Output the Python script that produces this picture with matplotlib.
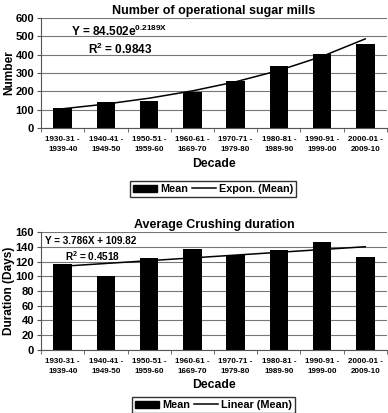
import numpy as np
import matplotlib.pyplot as plt
from matplotlib.patches import Patch
from matplotlib.lines import Line2D

plt.rcParams['font.family'] = 'Liberation Sans'
plt.rcParams['font.weight'] = 'bold'
plt.rcParams['mathtext.fontset'] = 'custom'
plt.rcParams['mathtext.rm'] = 'Liberation Sans:bold'
plt.rcParams['mathtext.it'] = 'Liberation Sans:bold'
plt.rcParams['mathtext.bf'] = 'Liberation Sans:bold'

decades = ["1930-31 -\n1939-40", "1940-41 -\n1949-50", "1950-51 -\n1959-60",
           "1960-61 -\n1669-70", "1970-71 -\n1979-80", "1980-81 -\n1989-90",
           "1990-91 -\n1999-00", "2000-01 -\n2009-10"]
mills = [107, 142, 147, 195, 258, 340, 407, 458]
crushing = [117, 101, 125, 137, 129, 136, 147, 126]

# trend lines from the equations printed on the chart
xi = np.arange(1, len(decades) + 1)
mills_fit = 84.502 * np.exp(0.2189 * xi)
crush_fit = 3.786 * xi + 109.82

fig = plt.figure(figsize=(3.88, 4.13), dpi=100)
ax1 = fig.add_axes([0.106, 0.690, 0.891, 0.266])
ax2 = fig.add_axes([0.106, 0.153, 0.891, 0.285])

x = np.arange(len(decades))


def style(ax, ymax, step):
    ax.set_xlim(-0.5, len(decades) - 0.5)
    ax.set_ylim(0, ymax)
    ax.set_yticks(np.arange(0, ymax + 1, step))
    ax.yaxis.grid(True, color='#777777', linewidth=0.8)
    ax.set_axisbelow(True)
    for s in ['top', 'right']:
        ax.spines[s].set_visible(False)
    ax.spines['left'].set_color('#555555')
    ax.spines['bottom'].set_color('#555555')
    ax.set_xticks(x)
    ax.set_xticklabels(decades, fontsize=5.8, fontweight='bold', linespacing=1.6)
    ax.set_xticks(np.arange(-0.5, len(decades)), minor=True)
    ax.tick_params(axis='x', which='major', length=0, pad=6)
    ax.tick_params(axis='x', which='minor', length=3, direction='out', color='#555555')
    ax.tick_params(axis='y', labelsize=8, length=3, pad=2, color='#555555')
    for t in ax.get_yticklabels():
        t.set_fontweight('bold')
    ax.set_xlabel("Decade", fontsize=8.8, fontweight='bold', labelpad=3)


ax1.bar(x, mills, width=0.43, color='black')
ax1.plot(x, mills_fit, color='black', linewidth=1.1)
style(ax1, 600, 100)
ax1.set_ylabel("Number", fontsize=8.6, fontweight='bold')
ax1.yaxis.set_label_coords(-0.075, 0.5)
ax1.set_title("Number of operational sugar mills", fontsize=9, fontweight='bold', pad=3)
ax1.text(0.2, 528, "Y = 84.502e$^{0.2189X}$", fontsize=8.5, va='center')
ax1.text(0.58, 432, "R$^{2}$ = 0.9843", fontsize=8.5, va='center')

ax2.bar(x, crushing, width=0.43, color='black')
ax2.plot(x, crush_fit, color='black', linewidth=1.1)
style(ax2, 160, 20)
ax2.set_ylabel("Duration (Days)", fontsize=8.6, fontweight='bold')
ax2.yaxis.set_label_coords(-0.075, 0.5)
ax2.set_title("Average Crushing duration", fontsize=9, fontweight='bold', pad=3)
ax2.text(-0.4, 148, "Y = 3.786X + 109.82", fontsize=7.2, va='center')
ax2.text(0.05, 128, "R$^{2}$ = 0.4518", fontsize=7.2, va='center')

for ax, lab, ypos in [(ax1, "Expon. (Mean)", 0.542), (ax2, "Linear (Mean)", 0.019)]:
    handles = [Patch(color='black'), Line2D([0], [0], color='black', linewidth=1.1)]
    fig.legend(handles, ["Mean", lab], loc='center', bbox_to_anchor=(0.55, ypos),
               ncol=2, frameon=True, fancybox=False, edgecolor='black',
               handlelength=2.2, handletextpad=0.3, columnspacing=0.4,
               borderpad=0.25, prop={'weight': 'bold', 'size': 7.8})

fig.savefig("out.png", dpi=100)
